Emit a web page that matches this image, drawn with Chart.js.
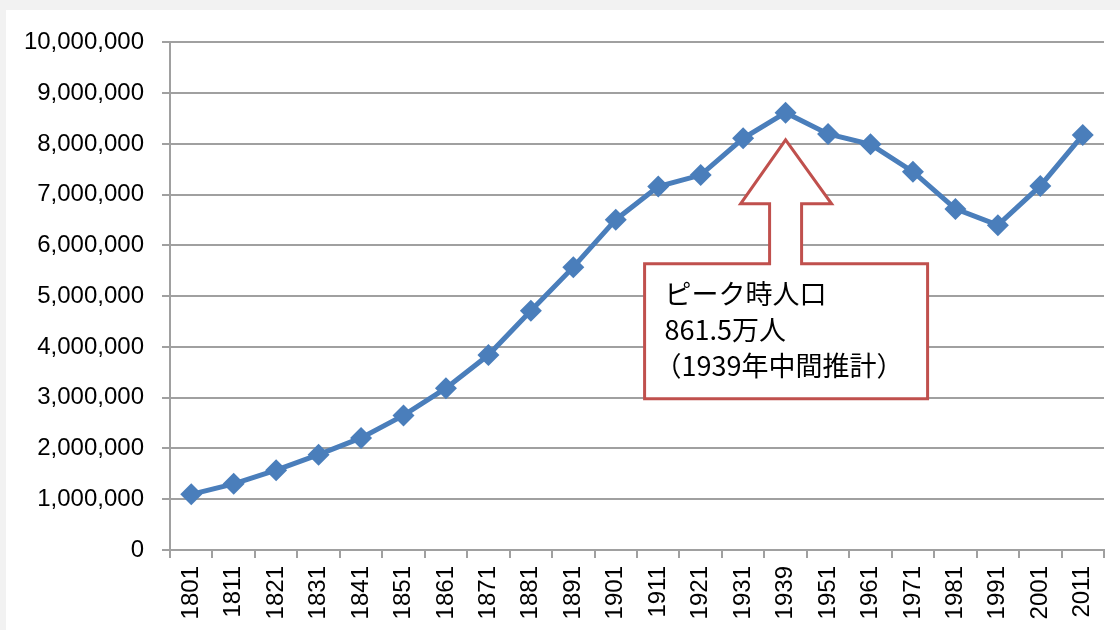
<!DOCTYPE html>
<html>
<head>
<meta charset="utf-8">
<script src="https://cdn.jsdelivr.net/npm/chart.js@4.4.1/dist/chart.umd.min.js"></script>
<style>
    html, body { margin: 0; padding: 0; background: #f2f2f2; }
    #wrap { position: absolute; left: 6px; top: 10px; width: 1114px; height: 620px; background: #fff; }
</style>
</head>
<body>
<div id="wrap"><canvas id="chart-pop"></canvas></div>
<script>
const years = ["1801", "1811", "1821", "1831", "1841", "1851", "1861", "1871", "1881", "1891", "1901",
    "1911", "1921", "1931", "1939", "1951", "1961", "1971", "1981", "1991", "2001", "2011"];
const population = [1096784, 1303564, 1573210, 1878229, 2207653, 2651939, 3188485, 3840595, 4713441, 5571968, 6506954,
    7160525, 7386848, 8110480, 8615245, 8196978, 7992616, 7452520, 6720000, 6400000, 7172091, 8173941];
const peakIndex = 14;
const calloutLines = ["ピーク時人口", "861.5万人", "（1939年中間推計）"];

const gridColor = "#a0a0a0";
const labelFont = { family: "Liberation Sans", size: 24 };

// up-arrow callout pointing at the peak year
const calloutPlugin = {
    id: "callout",
    afterDraw(chart) {
        const ctx = chart.ctx;
        const x = chart.scales.x.getPixelForValue(peakIndex);
        const tipY = chart.scales.y.getPixelForValue(8080000);
        const headY = tipY + 64, boxTop = tipY + 124, boxBottom = tipY + 259;
        const left = x - 141, right = x + 142;
        ctx.save();
        ctx.beginPath();
        ctx.moveTo(left, boxTop);
        ctx.lineTo(x - 16, boxTop);
        ctx.lineTo(x - 16, headY);
        ctx.lineTo(x - 45, headY);
        ctx.lineTo(x, tipY);
        ctx.lineTo(x + 46, headY);
        ctx.lineTo(x + 16, headY);
        ctx.lineTo(x + 16, boxTop);
        ctx.lineTo(right, boxTop);
        ctx.lineTo(right, boxBottom);
        ctx.lineTo(left, boxBottom);
        ctx.closePath();
        ctx.fillStyle = "#fff";
        ctx.fill();
        ctx.lineWidth = 3;
        ctx.strokeStyle = "#c0504d";
        ctx.stroke();
        ctx.fillStyle = "#000";
        ctx.font = "27px 'Noto Sans CJK JP'";
        ctx.textBaseline = "middle";
        ctx.textAlign = "left";
        calloutLines.forEach((t, i) => {
            // the full-width bracket has its ink on the right, so pull the last line left
            const dx = t.startsWith("（") ? -10 : 0;
            ctx.fillText(t, left + 20 + dx, tipY + 154 + i * 36);
        });
        ctx.restore();
    }
};

new Chart(document.getElementById("chart-pop"), {
    type: "line",
    data: {
        labels: years,
        datasets: [{
            data: population,
            borderColor: "#4a7ebb",
            backgroundColor: "#4a7ebb",
            borderWidth: 5,
            tension: 0,
            pointStyle: "rectRot",
            pointRadius: 11,
            pointBorderWidth: 0,
            pointBackgroundColor: "#4a7ebb",
        }]
    },
    options: {
        responsive: true,
        maintainAspectRatio: false,
        animation: false,
        layout: { padding: { top: 31, right: 16, left: 0, bottom: 0 } },
        plugins: {
            legend: { display: false },
            tooltip: { enabled: false },
        },
        scales: {
            x: {
                offset: true,
                grid: {
                    offset: true,
                    drawOnChartArea: false,
                    color: gridColor,
                    lineWidth: 2,
                    tickLength: 8,
                },
                border: { color: gridColor, width: 2 },
                ticks: {
                    autoSkip: false,
                    maxRotation: 90,
                    minRotation: 90,
                    color: "#000",
                    font: labelFont,
                    padding: 8,
                },
                afterFit: s => { s.height = 80; },
            },
            y: {
                min: 0,
                max: 10000000,
                grid: {
                    color: gridColor,
                    lineWidth: 2,
                    tickLength: 8,
                },
                border: { color: gridColor, width: 2 },
                ticks: {
                    stepSize: 1000000,
                    color: "#000",
                    font: labelFont,
                    padding: 18,
                    callback: v => v.toLocaleString("en-US"),
                },
                afterFit: s => { s.width = 164; },
            }
        }
    },
    plugins: [calloutPlugin]
});
</script>
</body>
</html>
